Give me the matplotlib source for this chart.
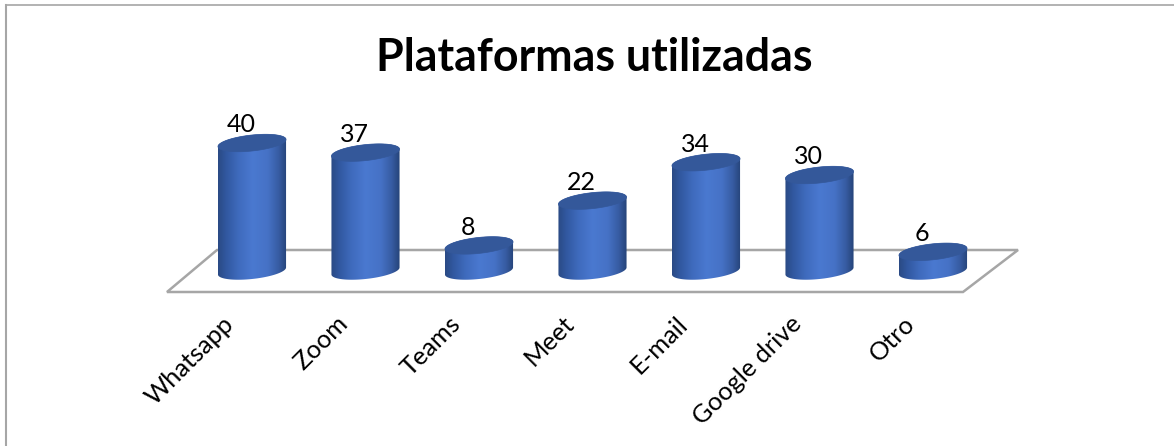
import matplotlib
matplotlib.use("Agg")
import matplotlib.pyplot as plt
import numpy as np
from matplotlib.colors import LinearSegmentedColormap
from matplotlib.patches import Polygon

categories = ["Whatsapp", "Zoom", "Teams", "Meet", "E-mail", "Google drive", "Otro"]
values = [40, 37, 8, 22, 34, 30, 6]

W, H = 1174, 446
X0, DX = 252.0, 113.5  # pixel x of first category, pixels per category
Y0, DY = 271.0, 3.2  # pixel y of value 0, pixels per unit
BAR_W = 0.6
BODY = LinearSegmentedColormap.from_list(
    "body",
    [(0, "#2a4a84"), (0.12, "#3158a0"), (0.3, "#3f6bbd"), (0.5, "#4a79d0"),
     (0.72, "#4672c6"), (0.88, "#375ca3"), (1, "#264478")],
)
TOP_COLOR = "#34589a"
GRAY = "#a6a6a6"

plt.rcParams["font.family"] = ["Lato", "DejaVu Sans"]
fig = plt.figure(figsize=(W / 100, H / 100), dpi=100)

# pixel overlay for the frame and the floor
deco = fig.add_axes([0, 0, 1, 1], zorder=1)
deco.set_xlim(0, W)
deco.set_ylim(H, 0)
deco.axis("off")
deco.plot([5.5, 5.5], [H, 4.5], color=GRAY, lw=1.5)
deco.plot([5.5, W], [4.5, 4.5], color=GRAY, lw=1.2)
deco.add_patch(Polygon([(167, 292), (963, 292), (1018, 250), (217, 250)],
                       closed=True, fill=False, edgecolor=GRAY, lw=1.8))
deco.text(594.5, 58, "Plataformas utilizadas", ha="center", va="center",
          fontsize=32.2, fontweight="bold", color="black")

# chart axes: x is the category index, y the value
ax = fig.add_axes([0, 0, 1, 1], zorder=2)
ax.set_xlim(-X0 / DX, (W - X0) / DX)
ax.set_ylim(-(H - Y0) / DY, Y0 / DY)
ax.axis("off")
ax.patch.set_alpha(0)

t = np.linspace(0, 2 * np.pi, 121)
half = BAR_W / 2
depth = 8.0 / DY  # ellipse half height in value units
tilt = 3.5 / DY


def ellipse(xc, yc):
    return np.column_stack([xc + half * np.cos(t), yc + depth * np.sin(t) + tilt * np.cos(t)])


for i, (name, val) in enumerate(zip(categories, values)):
    top = ellipse(i, val)
    # silhouette: lower half of the base ellipse plus upper half of the top one
    lower = t[t >= np.pi]
    upper = t[t <= np.pi]
    sil = np.vstack([
        np.column_stack([i + half * np.cos(lower), depth * np.sin(lower) + tilt * np.cos(lower)]),
        np.column_stack([i + half * np.cos(upper), val + depth * np.sin(upper) + tilt * np.cos(upper)]),
    ])
    clip = Polygon(sil, closed=True, transform=ax.transData, facecolor="none", edgecolor="none")
    ax.add_patch(clip)
    grad = np.linspace(0, 1, 256).reshape(1, -1)
    im = ax.imshow(grad, cmap=BODY, aspect="auto", zorder=3,
                   extent=(i - half, i + half, -depth - tilt, val + depth + tilt))
    im.set_clip_path(clip)
    ax.add_patch(Polygon(top, closed=True, facecolor=TOP_COLOR, edgecolor=TOP_COLOR, lw=0.5, zorder=4))
    ax.annotate(str(val), (i, val), xytext=(-11, 18), textcoords="offset pixels",
                ha="center", va="center", fontsize=18, color="black", zorder=5)
    ax.annotate(name, (i, 0), xytext=(-30, -41), textcoords="offset pixels",
                ha="right", va="top", rotation=45, rotation_mode="anchor",
                fontsize=18.3, color="black", zorder=5)

ax.set_xlim(-X0 / DX, (W - X0) / DX)
ax.set_ylim(-(H - Y0) / DY, Y0 / DY)

fig.savefig("out.png", dpi=100, facecolor="white")
plt.close(fig)
